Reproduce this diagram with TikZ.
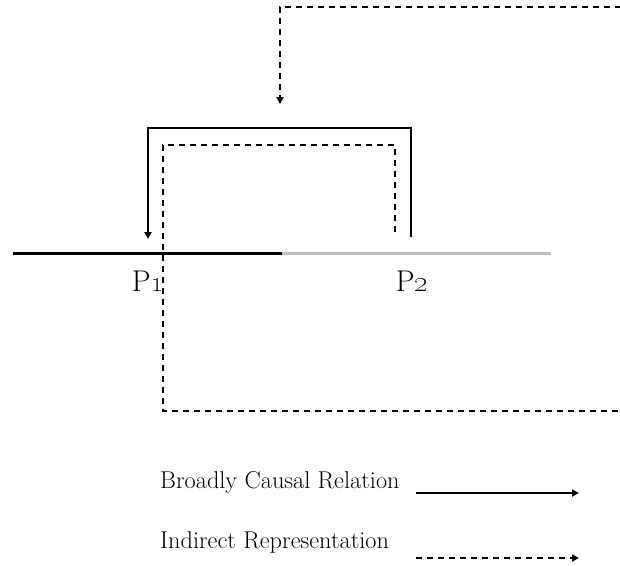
\documentclass[tikz,border=0pt]{standalone}
\usetikzlibrary{arrows.meta}
\begin{document}
\begin{tikzpicture}[x=1pt,y=-1pt,
  causal/.style={line width=2pt,-{Triangle[length=7pt,width=7pt]}},
  indirect/.style={line width=2pt,dash pattern=on 6pt off 5pt,-{Triangle[length=7pt,width=7pt]}},
  lbl/.style={font=\fontsize{30}{32}\selectfont,inner sep=0pt},
  legtext/.style={font=\fontsize{24.3}{26}\selectfont,anchor=base west,inner sep=0pt}]
\useasboundingbox (0,0) rectangle (620,565);
\clip (0,0) rectangle (620,565);
% timeline
\coordinate (a) at (13,253);
\coordinate (m) at (282,253);
\coordinate (b) at (551,253);
\draw[line width=3pt,black] (a) -- (m);
\draw[line width=3pt,black!25] (m) -- (b);
\node[lbl] (p1) at (148,281) {P\oldstylenums{1}};
\node[lbl] (p2) at (412,281) {P\oldstylenums{2}};
% solid causal path
\coordinate (s0) at (411,237);
\coordinate (s1) at (411,128);
\coordinate (s2) at (148,128);
\coordinate (s3) at (148,239);
\draw[causal] (s0) -- (s1) -- (s2) -- (s3);
% dashed indirect path
\coordinate (d0) at (395,232);
\coordinate (d1) at (395,145);
\coordinate (d2) at (163,145);
\coordinate (d3) at (163,411);
\coordinate (d4) at (640,411);
\coordinate (d5) at (640,7);
\coordinate (d6) at (280,7);
\coordinate (d7) at (280,104);
\draw[indirect] (d0) -- (d1) -- (d2) -- (d3) -- (d4) -- (d5) -- (d6) -- (d7);
% legend
\node[legtext] (t1) at (160,488) {Broadly Causal Relation};
\node[legtext] (t2) at (160,548) {Indirect Representation};
\coordinate (l1a) at (416,493);
\coordinate (l1b) at (579,493);
\coordinate (l2a) at (416,558);
\coordinate (l2b) at (579,558);
\draw[causal] (l1a) -- (l1b);
\draw[indirect] (l2a) -- (l2b);
\end{tikzpicture}
\end{document}
